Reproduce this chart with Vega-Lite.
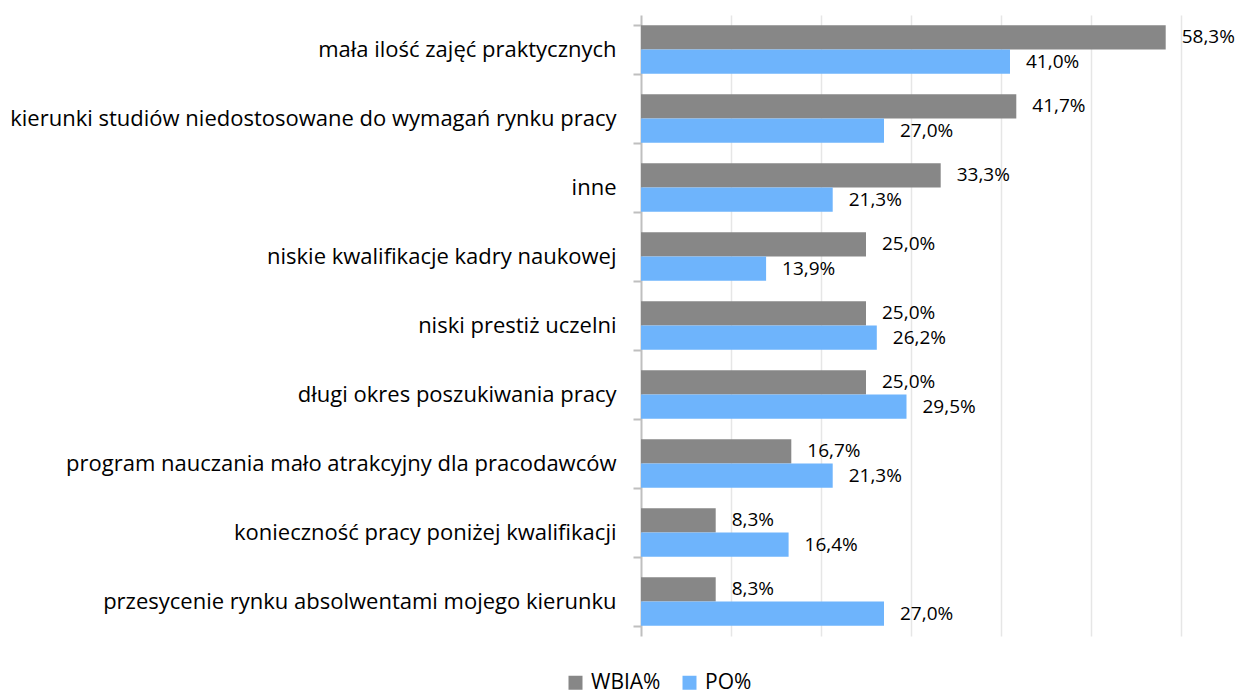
{
  "$schema": "https://vega.github.io/schema/vega-lite/v6.json",
  "width": 540,
  "height": 621,
  "autosize": "none",
  "padding": {"left": 641, "top": 15, "right": 58, "bottom": 58},
  "background": "white",
  "config": {
    "font": "Open Sans",
    "view": {"stroke": null},
    "locale": {"number": {"decimal": ",", "thousands": " ", "grouping": [3], "currency": ["", " zł"]}}
  },
  "data": {
    "values": [
      {"cat": "mała ilość zajęć praktycznych", "series": "WBIA%", "value": 0.583},
      {"cat": "mała ilość zajęć praktycznych", "series": "PO%", "value": 0.410},
      {"cat": "kierunki studiów niedostosowane do wymagań rynku pracy", "series": "WBIA%", "value": 0.417},
      {"cat": "kierunki studiów niedostosowane do wymagań rynku pracy", "series": "PO%", "value": 0.270},
      {"cat": "inne", "series": "WBIA%", "value": 0.333},
      {"cat": "inne", "series": "PO%", "value": 0.213},
      {"cat": "niskie kwalifikacje kadry naukowej", "series": "WBIA%", "value": 0.250},
      {"cat": "niskie kwalifikacje kadry naukowej", "series": "PO%", "value": 0.139},
      {"cat": "niski prestiż uczelni", "series": "WBIA%", "value": 0.250},
      {"cat": "niski prestiż uczelni", "series": "PO%", "value": 0.262},
      {"cat": "długi okres poszukiwania pracy", "series": "WBIA%", "value": 0.250},
      {"cat": "długi okres poszukiwania pracy", "series": "PO%", "value": 0.295},
      {"cat": "program nauczania mało atrakcyjny dla pracodawców", "series": "WBIA%", "value": 0.167},
      {"cat": "program nauczania mało atrakcyjny dla pracodawców", "series": "PO%", "value": 0.213},
      {"cat": "konieczność pracy poniżej kwalifikacji", "series": "WBIA%", "value": 0.083},
      {"cat": "konieczność pracy poniżej kwalifikacji", "series": "PO%", "value": 0.164},
      {"cat": "przesycenie rynku absolwentami mojego kierunku", "series": "WBIA%", "value": 0.083},
      {"cat": "przesycenie rynku absolwentami mojego kierunku", "series": "PO%", "value": 0.270}
    ]
  },
  "encoding": {
    "y": {
      "field": "cat",
      "type": "nominal",
      "sort": null,
      "scale": {"paddingInner": 0.3, "paddingOuter": 0.15},
      "axis": {
        "title": null,
        "domainColor": "#bfbfbf",
        "domainWidth": 2,
        "tickColor": "#bfbfbf",
        "tickWidth": 2,
        "tickSize": 8,
        "tickBand": "extent",
        "labelFontSize": 22,
        "labelColor": "#000000",
        "labelPadding": 17,
        "labelLimit": 700
      }
    },
    "yOffset": {"field": "series", "type": "nominal", "sort": ["WBIA%", "PO%"]},
    "x": {
      "field": "value",
      "type": "quantitative",
      "scale": {"domain": [0, 0.6]},
      "axis": {
        "title": null,
        "labels": false,
        "ticks": false,
        "domain": false,
        "grid": true,
        "gridColor": "#e6e6e6",
        "gridWidth": 1.5,
        "values": [0.1, 0.2, 0.3, 0.4, 0.5, 0.6]
      }
    }
  },
  "layer": [
    {
      "mark": {"type": "bar"},
      "encoding": {
        "color": {
          "field": "series",
          "type": "nominal",
          "sort": ["WBIA%", "PO%"],
          "scale": {"domain": ["WBIA%", "PO%"], "range": ["#878787", "#6eb4fc"]},
          "legend": {
            "title": null,
            "orient": "none",
            "direction": "horizontal",
            "legendX": -76,
            "legendY": 657,
            "symbolType": "square",
            "symbolSize": 196,
            "symbolStrokeWidth": 0,
            "symbolOpacity": 1,
            "labelFontSize": 21,
            "labelColor": "#000000",
            "labelOffset": 5,
            "columnPadding": 18
          }
        }
      }
    },
    {
      "mark": {"type": "text", "align": "left", "baseline": "middle", "dx": 16, "fontSize": 19, "color": "#000000"},
      "encoding": {
        "text": {"field": "value", "type": "quantitative", "format": ".1%"}
      }
    }
  ]
}
